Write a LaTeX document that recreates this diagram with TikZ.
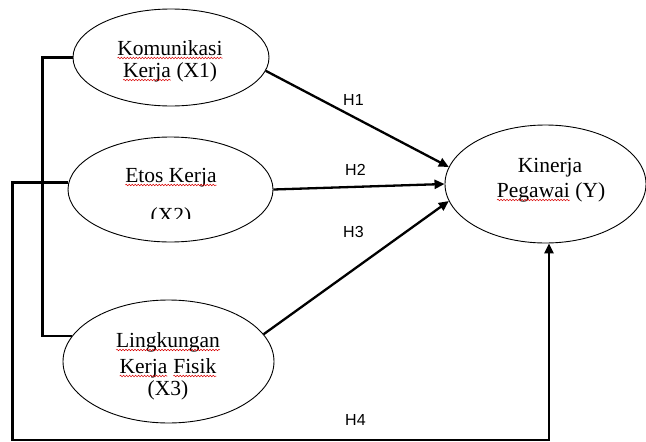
\documentclass[tikz,border=0pt]{standalone}
\usepackage{fontspec}
\setmainfont{Liberation Serif}
\newfontfamily\hfont{Liberation Sans}
\usetikzlibrary{shapes.geometric,arrows.meta,decorations.pathmorphing}
\newcommand\rw[1]{\tikz[baseline=(rwword.base),x=1pt,y=1pt]{\node[inner sep=0pt,outer sep=0pt,anchor=base] (rwword) at (0,0) {#1};\draw[red!85!black,line width=0.5pt,decorate,decoration={snake,amplitude=0.8pt,segment length=3pt}] ([yshift=-3pt]rwword.base west) -- ([yshift=-3pt]rwword.base east);}}
\tikzset{
  ell/.style={draw, ellipse, inner sep=0pt, line width=0.9pt},
  tx/.style={font=\fontsize{21.5}{24}\selectfont, anchor=base, inner sep=0pt},
  hl/.style={font=\hfont\fontsize{16}{18}\selectfont, anchor=base west, inner sep=0pt},
  conn/.style={line width=2.3pt},
  arr/.style={line width=2.3pt, -{Triangle[length=10pt,width=9pt]}}
}
\begin{document}
\begin{tikzpicture}[x=1pt,y=-1pt]
\useasboundingbox (0,0) rectangle (646,442);
% ellipses
\node[ell, minimum width=196pt, minimum height=97pt] (x1) at (171,57.5) {};
\node[ell, minimum width=205pt, minimum height=105pt] (x2) at (170.5,189.5) {};
\node[ell, minimum width=211pt, minimum height=123pt] (x3) at (168.5,361.5) {};
\node[ell, minimum width=201pt, minimum height=118pt] (y) at (545.5,184) {};
% texts
\node[tx] (t1a) at (170,55) {\rw{Komunikasi}};
\node[tx] (t1b) at (170,77) {\rw{Kerja} (X1)};
\node[tx] (t2a) at (171,182) {\rw{Etos Kerja}};
\begin{scope}
\clip (100,195) rectangle (240,218.5);
\node[tx] (t2b) at (171,222) {(X2)};
\end{scope}
\node[tx] (t3a) at (168,347) {\rw{Lingkungan}};
\node[tx] (t3b) at (168,373) {\rw{Kerja} \rw{Fisik}};
\node[tx] (t3c) at (168,395) {(X3)};
\node[tx] (ya) at (550,172) {Kinerja};
\node[tx] (yb) at (551,197) {\rw{Pegawai} (Y)};
% hypothesis labels
\node[hl] (h1) at (343,105) {H1};
\node[hl] (h2) at (345,175) {H2};
\node[hl] (h3) at (343,237) {H3};
\node[hl] (h4) at (345,425) {H4};
% connectors
\draw[arr] (x1.-8) -- (y.170.5);
\draw[arr] (x2.east) -- (y.west);
\draw[arr] (x3.16) -- (y.190.6);
\draw[conn] (x1.west) -- ++(-30,0) |- (x3.165);
\coordinate (b) at (549,440);
\draw[arr] (x2.176) -- ++(-56,0) |- (b) -- (b |- y.south);
\end{tikzpicture}
\end{document}
